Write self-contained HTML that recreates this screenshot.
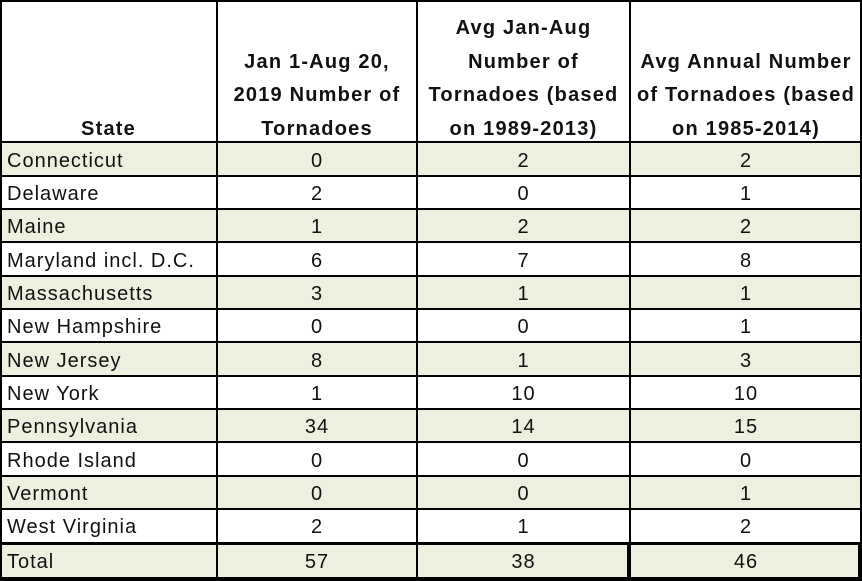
<!DOCTYPE html>
<html>
<head>
<meta charset="utf-8">
<style>
  html,body{margin:0;padding:0;background:#fff;}
  #c{position:relative;width:862px;height:581px;overflow:hidden;background:#fff;
     font-family:"Liberation Sans",Arial,sans-serif;color:#111;}
  .f{position:absolute;left:0;width:862px;height:33.34px;background:#EBF1DE;}
  .h{position:absolute;left:0;width:862px;height:2px;background:#000;}
  .v{position:absolute;top:0;width:2px;height:581px;background:#000;}
  .r{position:absolute;left:0;width:862px;height:33.34px;line-height:33.34px;font-size:20px;letter-spacing:1px;white-space:nowrap;}
  .r span{position:absolute;top:0;}
  .a{left:7px;}
  .b{left:217px;width:200px;text-align:center;}
  .c{left:417px;width:213px;text-align:center;}
  .d{left:630px;width:232px;text-align:center;}
  .hd{position:absolute;font-weight:bold;font-size:20px;letter-spacing:1.2px;line-height:33.7px;text-align:center;white-space:nowrap;}
</style>
</head>
<body>
<div id="c">
  <!-- fills -->
  <div class="f" style="top:142.33px"></div>
  <div class="f" style="top:209px"></div>
  <div class="f" style="top:275.67px"></div>
  <div class="f" style="top:342.33px"></div>
  <div class="f" style="top:409px"></div>
  <div class="f" style="top:475.67px"></div>
  <div class="f" style="top:542px;height:36px"></div>

  <!-- horizontal lines -->
  <div class="h" style="top:0"></div>
  <div class="h" style="top:141.33px"></div>
  <div class="h" style="top:174.67px"></div>
  <div class="h" style="top:208px"></div>
  <div class="h" style="top:241.33px"></div>
  <div class="h" style="top:274.67px"></div>
  <div class="h" style="top:308px"></div>
  <div class="h" style="top:341.33px"></div>
  <div class="h" style="top:374.67px"></div>
  <div class="h" style="top:408px"></div>
  <div class="h" style="top:441.33px"></div>
  <div class="h" style="top:474.67px"></div>
  <div class="h" style="top:508px"></div>
  <div class="h" style="top:541.7px;height:3.5px"></div>
  <div class="h" style="top:577px;height:4px"></div>

  <!-- vertical lines -->
  <div class="v" style="left:0"></div>
  <div class="v" style="left:216px"></div>
  <div class="v" style="left:416px"></div>
  <div class="v" style="left:629px"></div>
  <div class="v" style="left:860px"></div>
  <div class="v" style="left:627px;top:542px;height:39px;width:4px"></div>
  <div class="v" style="left:858px;top:542px;height:39px;width:4px"></div>

  <!-- header -->
  <div class="hd" style="left:0;width:217px;top:112.9px">State</div>
  <div class="hd" style="left:217px;width:200px;top:45.5px">Jan 1-Aug 20,<br>2019 Number of<br>Tornadoes</div>
  <div class="hd" style="left:417px;width:213px;top:11.8px">Avg Jan-Aug<br>Number of<br>Tornadoes (based<br>on 1989-2013)</div>
  <div class="hd" style="left:630px;width:232px;top:45.5px">Avg Annual Number<br>of Tornadoes (based<br>on 1985-2014)</div>

  <!-- rows -->
  <div class="r" style="top:144.7px"><span class="a">Connecticut</span><span class="b">0</span><span class="c">2</span><span class="d">2</span></div>
  <div class="r" style="top:178.1px"><span class="a">Delaware</span><span class="b">2</span><span class="c">0</span><span class="d">1</span></div>
  <div class="r" style="top:211.4px"><span class="a">Maine</span><span class="b">1</span><span class="c">2</span><span class="d">2</span></div>
  <div class="r" style="top:244.7px"><span class="a">Maryland incl. D.C.</span><span class="b">6</span><span class="c">7</span><span class="d">8</span></div>
  <div class="r" style="top:278.1px"><span class="a">Massachusetts</span><span class="b">3</span><span class="c">1</span><span class="d">1</span></div>
  <div class="r" style="top:311.4px"><span class="a">New Hampshire</span><span class="b">0</span><span class="c">0</span><span class="d">1</span></div>
  <div class="r" style="top:344.7px"><span class="a">New Jersey</span><span class="b">8</span><span class="c">1</span><span class="d">3</span></div>
  <div class="r" style="top:378.1px"><span class="a">New York</span><span class="b">1</span><span class="c">10</span><span class="d">10</span></div>
  <div class="r" style="top:411.4px"><span class="a">Pennsylvania</span><span class="b">34</span><span class="c">14</span><span class="d">15</span></div>
  <div class="r" style="top:444.7px"><span class="a">Rhode Island</span><span class="b">0</span><span class="c">0</span><span class="d">0</span></div>
  <div class="r" style="top:478.1px"><span class="a">Vermont</span><span class="b">0</span><span class="c">0</span><span class="d">1</span></div>
  <div class="r" style="top:511.4px"><span class="a">West Virginia</span><span class="b">2</span><span class="c">1</span><span class="d">2</span></div>
  <div class="r" style="top:546.4px"><span class="a">Total</span><span class="b">57</span><span class="c">38</span><span class="d">46</span></div>
</div>
</body>
</html>
